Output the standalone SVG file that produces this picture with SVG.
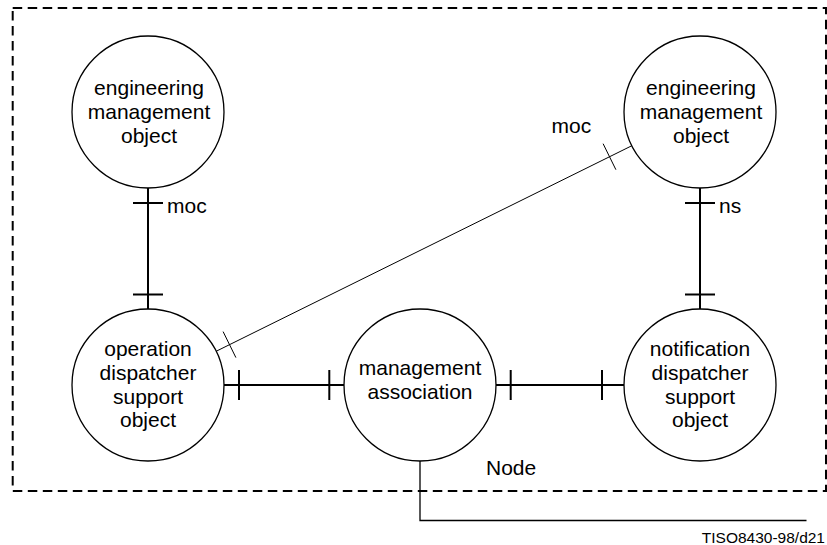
<svg xmlns="http://www.w3.org/2000/svg" width="827" height="545" viewBox="0 0 827 545">
<style>
  .bg{fill:#fff}
  .frame{fill:none;stroke:#000;stroke-width:2;stroke-dasharray:9.5 5.5}
  .node circle{fill:#fff;stroke:#000;stroke-width:1.3}
  text{font-family:"Liberation Sans",Arial,Helvetica,sans-serif;font-size:21px;fill:#000}
  .node text{text-anchor:middle}
  .thick{fill:none;stroke:#000;stroke-width:2}
  .thin{fill:none;stroke:#000;stroke-width:1}
  .mid{fill:none;stroke:#000;stroke-width:1.3}
</style>
<rect class="bg" x="0" y="0" width="827" height="545"/>
<rect id="node-frame" class="frame" x="12.7" y="8" width="813.3" height="483"/>

<g id="connectors">
  <!-- left vertical moc -->
  <line class="thick" x1="148" y1="188" x2="148" y2="309"/>
  <line class="thick" x1="133" y1="203" x2="163" y2="203"/>
  <line class="thick" x1="133" y1="294.5" x2="163" y2="294.5"/>
  <!-- right vertical ns -->
  <line class="thick" x1="700" y1="188" x2="700" y2="309"/>
  <line class="thick" x1="685" y1="203" x2="715" y2="203"/>
  <line class="thick" x1="685" y1="294.5" x2="715" y2="294.5"/>
  <!-- operation to management association -->
  <line class="thick" x1="224" y1="385" x2="344" y2="385"/>
  <line class="thick" x1="239" y1="370" x2="239" y2="400"/>
  <line class="thick" x1="329.3" y1="370" x2="329.3" y2="400"/>
  <!-- management association to notification -->
  <line class="thick" x1="496" y1="385" x2="624" y2="385"/>
  <line class="thick" x1="510.7" y1="370" x2="510.7" y2="400"/>
  <line class="thick" x1="602" y1="370" x2="602" y2="400"/>
  <!-- diagonal moc -->
  <line class="thin" x1="216.1" y1="351.3" x2="631.9" y2="145.7"/>
  <line class="thin" x1="223.1" y1="331.6" x2="235.9" y2="357.6"/>
  <line class="thin" x1="603.1" y1="143.7" x2="615.9" y2="169.7"/>
  <!-- outgoing from management association -->
  <polyline class="mid" points="420,461 420,520.5 806.5,520.5"/>
  <text x="167" y="213">moc</text>
  <text x="719" y="213">ns</text>
  <text x="551.5" y="133">moc</text>
</g>

<g id="eng-mgmt-obj-left" class="node">
  <circle cx="148" cy="112" r="76"/>
  <text x="149" y="94.5">engineering</text>
  <text x="149" y="118.5">management</text>
  <text x="149" y="142.5">object</text>
</g>
<g id="eng-mgmt-obj-right" class="node">
  <circle cx="700" cy="112" r="76"/>
  <text x="701" y="94.5">engineering</text>
  <text x="701" y="118.5">management</text>
  <text x="701" y="142.5">object</text>
</g>
<g id="operation-dispatcher" class="node">
  <circle cx="148" cy="385" r="76"/>
  <text x="148" y="356.3">operation</text>
  <text x="148" y="380">dispatcher</text>
  <text x="148" y="403.7">support</text>
  <text x="148" y="427.4">object</text>
</g>
<g id="management-association" class="node">
  <circle cx="420" cy="385" r="76"/>
  <text x="420" y="375">management</text>
  <text x="420" y="399">association</text>
</g>
<g id="notification-dispatcher" class="node">
  <circle cx="700" cy="385" r="76"/>
  <text x="700" y="356.3">notification</text>
  <text x="700" y="380">dispatcher</text>
  <text x="700" y="403.7">support</text>
  <text x="700" y="427.4">object</text>
</g>

<text x="486" y="474.5">Node</text>
<text x="825" y="542.5" style="font-size:15.5px;text-anchor:end">TISO8430-98/d21</text>
</svg>
